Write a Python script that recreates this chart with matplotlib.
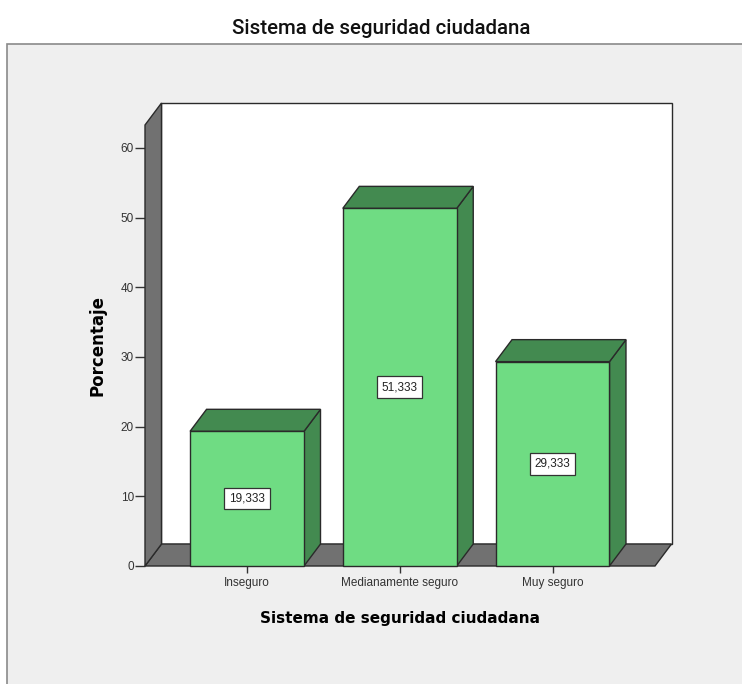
import matplotlib.pyplot as plt
import numpy as np
from matplotlib.patches import Polygon, Rectangle

categories = ['Inseguro', 'Medianamente seguro', 'Muy seguro']
porcentaje = [19.333, 51.333, 29.333]
value_labels = ['19,333', '51,333', '29,333']
yticks = [0, 10, 20, 30, 40, 50, 60]

title = 'Sistema de seguridad ciudadana'
xlabel = 'Sistema de seguridad ciudadana'
ylabel = 'Porcentaje'

plt.rcParams['font.family'] = ['Liberation Sans', 'DejaVu Sans']

W, H = 742, 684
fig = plt.figure(figsize=(W / 100, H / 100), dpi=100)
fig.patch.set_facecolor('white')

# gray panel behind the chart
fig.patches.append(Rectangle((7 / W, -0.01), 1.0, (H - 44) / H + 0.01,
                             transform=fig.transFigure, facecolor='#efefef',
                             edgecolor='#8a8a8a', lw=1.2, zorder=-5))

# front plane of the 3d box, in pixels
left_px, right_px, bottom_px, top_px = 145, 655, 566, 125
ax = fig.add_axes([left_px / W, (H - bottom_px) / H,
                   (right_px - left_px) / W, (bottom_px - top_px) / H])
ax.set_facecolor('none')
ax.set_zorder(2)

x = np.arange(len(categories))
ymax = 63.3
ax.set_xlim(-0.668, 2.671)
ax.set_ylim(0, ymax)
xmin, xmax = ax.get_xlim()

dx_px, dy_px = 16.5, 22.0  # depth of the 3d effect


def back(px, py):
    # shift a data point into the back plane
    d = ax.transData.transform((px, py)) + np.array([dx_px, dy_px])
    return tuple(ax.transData.inverted().transform(d))


edge = '#2a2a2a'
wall_gray = '#717171'

# back wall
bw = [back(xmin, 0), back(xmax, 0), back(xmax, ymax), back(xmin, ymax)]
ax.add_patch(Polygon(bw, closed=True, facecolor='white', edgecolor=edge,
                     lw=1.0, clip_on=False, zorder=1))
# floor
floor = [(xmin, 0), (xmax, 0), back(xmax, 0), back(xmin, 0)]
ax.add_patch(Polygon(floor, closed=True, facecolor=wall_gray, edgecolor=edge,
                     lw=1.0, clip_on=False, zorder=2))
# left wall
lw_ = [(xmin, 0), (xmin, ymax), back(xmin, ymax), back(xmin, 0)]
ax.add_patch(Polygon(lw_, closed=True, facecolor=wall_gray, edgecolor=edge,
                     lw=1.0, clip_on=False, zorder=2))

# bars
width = 0.746
front_col = '#6fdc83'
dark_col = '#438a50'
for xi, v, lab in zip(x, porcentaje, value_labels):
    x0, x1 = xi - width / 2, xi + width / 2
    top = [(x0, v), (x1, v), back(x1, v), back(x0, v)]
    side = [(x1, 0), (x1, v), back(x1, v), back(x1, 0)]
    ax.add_patch(Polygon(side, closed=True, facecolor=dark_col, edgecolor=edge,
                         lw=1.0, clip_on=False, zorder=3))
    ax.add_patch(Polygon(top, closed=True, facecolor=dark_col, edgecolor=edge,
                         lw=1.0, clip_on=False, zorder=3))
    ax.bar(xi, v, width=width, color=front_col, edgecolor=edge, lw=1.0,
           zorder=4, clip_on=False)
    ax.text(xi, v / 2, lab, ha='center', va='center', fontsize=8.5,
            color='#222222', zorder=5,
            bbox=dict(boxstyle='square,pad=0.4', facecolor='white',
                      edgecolor='#333333', lw=0.9))

for s in ax.spines.values():
    s.set_visible(False)

ax.set_yticks(yticks)
ax.set_yticklabels([str(t) for t in yticks])
ax.set_xticks(x)
ax.set_xticklabels(categories)
ax.tick_params(axis='y', length=7, width=1, color='#333333', labelsize=8.5,
               labelcolor='#333333', pad=1)
ax.tick_params(axis='x', length=5, width=1, color='#333333', labelsize=8.5,
               labelcolor='#333333', pad=3)

ax.set_ylabel(ylabel, fontsize=12, fontweight='bold', family='DejaVu Sans',
              labelpad=10)
ax.set_xlabel(xlabel, fontsize=11, fontweight='bold', family='DejaVu Sans',
              labelpad=16)

fig.text(381 / W, 1 - 28 / H, title, ha='center', va='center', fontsize=14.8,
         family=['Roboto', 'Liberation Sans'], fontweight='medium',
         color='#111111')

fig.savefig('out.png', dpi=100)
